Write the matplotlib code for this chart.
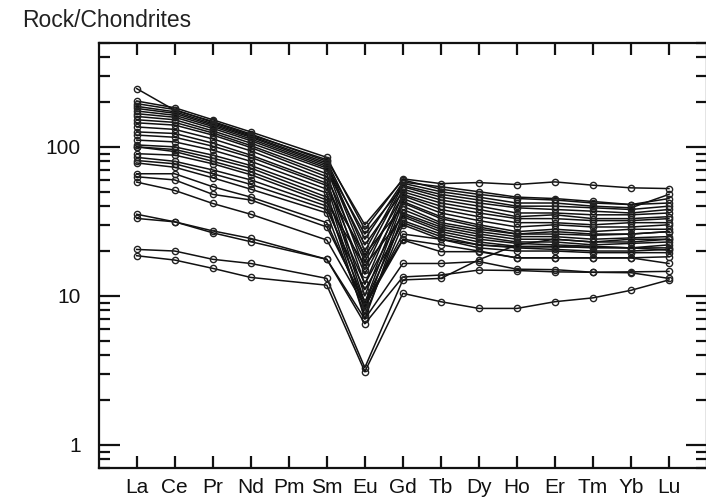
import numpy as np
import matplotlib
matplotlib.use("Agg")
import matplotlib.pyplot as plt
from matplotlib.ticker import FixedLocator, NullFormatter, FixedFormatter

plt.rcParams['font.family'] = ['Liberation Sans', 'DejaVu Sans']

elements = ["La", "Ce", "Pr", "Nd", "Pm", "Sm", "Eu", "Gd", "Tb", "Dy", "Ho", "Er", "Tm", "Yb", "Lu"]
measured = ["La", "Ce", "Pr", "Nd", "Sm", "Eu", "Gd", "Tb", "Dy", "Ho", "Er", "Tm", "Yb", "Lu"]

# Chondrite-normalised values (Pm not measured)
s01 = [246, 176, 148, 122, 80, 24, 58, 54, 50, 46, 45, 43, 41, 42]
s02 = [203, 183, 152, 126, 85, 28, 61, 56.7, 57.6, 55.9, 58.2, 55.3, 53.1, 52.5]
s03 = [195, 178, 146, 120, 82, 30, 60, 52, 48, 45, 44, 42, 41, 45]
s04 = [187, 172, 143, 118, 78, 20, 57, 50, 46, 42, 42, 40, 39, 48]
s05 = [181, 168, 140, 116, 76, 18, 55, 48, 44, 40, 40, 39, 38, 40]
s06 = [174, 163, 137, 113, 74, 26, 54, 46, 42, 39, 38, 37, 36, 38]
s07 = [167, 158, 133, 110, 72, 15, 52, 44, 40, 36, 36, 35, 35, 36]
s08 = [160, 152, 128, 106, 70, 22, 50, 42, 38, 34, 35, 33, 33, 34]
s09 = [152, 146, 124, 102, 66, 12, 48, 40, 36, 33, 33, 32, 32, 33]
s10 = [145, 140, 120, 99, 63, 17, 47, 38, 34, 31, 31, 30, 31, 31]
s11 = [136, 131, 113, 94, 60, 10, 45, 36, 32, 29, 30, 29, 29, 30]
s12 = [126, 123, 106, 88, 57, 14, 43, 34, 30, 27, 28, 27, 28, 28]
s13 = [120, 116, 101, 85, 55, 9, 42, 33, 29, 26, 27, 26, 26, 27]
s14 = [111, 108, 95, 80, 52, 19, 40, 31, 28, 26, 26, 25.5, 26, 27]
s15 = [103, 100, 88, 75, 49, 8, 38, 30, 27, 25, 25, 24, 24.5, 25]
s16 = [100, 96, 84, 72, 46, 12, 36, 29, 26, 24, 24, 23, 23, 24]
s17 = [100, 93, 80, 68, 44, 7, 35, 28, 25, 23, 23, 22, 22.5, 23]
s18 = [90, 88, 77, 65, 42, 16, 34, 27, 24, 22.5, 22, 21.5, 21, 22]
s19 = [85, 80, 70, 60, 40, 9, 32, 26, 23, 21.5, 21.5, 21, 21, 21]
s20 = [81, 77, 66, 56, 38, 11, 31, 25, 22, 21, 20.5, 20, 20, 20.5]
s21 = [78, 73, 62, 52, 36, 7.5, 30, 24, 21, 20, 20, 19.5, 19.5, 19.5]
s22 = [66, 66, 54, 46, 31, 8.5, 26, 24, 22, 21.3, 21.3, 21.3, 21, 20.3]
s23 = [63, 60, 48, 44, 29, 9, 24, 22, 20, 18, 18, 18, 18, 18.3]
s24 = [58, 51, 41.7, 35.3, 23.7, 8.5, 23.7, 19.8, 19.8, 18, 18, 18, 18, 16.5]
s25 = [35.3, 31.4, 27.3, 24.3, 17.6, 7, 16.5, 16.5, 17, 15.1, 15, 14.4, 14.5, 14.6]
s26 = [33.1, 31.4, 26.5, 23.1, 17.6, 6.5, 13.4, 13.8, 14.9, 14.8, 14.5, 14.4, 14.3, 13.1]
s27 = [20.5, 20.0, 17.6, 16.5, 13.1, 3.3, 12.8, 13.1, 17.5, 22, 24, 23, 24, 24]
s28 = [18.6, 17.4, 15.3, 13.3, 11.8, 3.1, 10.4, 9.14, 8.24, 8.24, 9.14, 9.7, 10.9, 12.8]

samples = [s01, s02, s03, s04, s05, s06, s07, s08, s09, s10, s11, s12, s13, s14,
           s15, s16, s17, s18, s19, s20, s21, s22, s23, s24, s25, s26, s27, s28]

y_major = [1, 10, 100]
y_major_labels = ["1", "10", "100"]

fig = plt.figure(figsize=(7.06, 4.97), dpi=100)
ax = fig.add_axes([98.7 / 706, 29 / 497, (707 - 98.7) / 706, (468 - 42.7) / 497])

xpos = [elements.index(e) for e in measured]
for s in samples:
    ax.plot(xpos, s, color='#111111', lw=1.1, marker='o', ms=4.5,
            mfc='none', mec='#222222', mew=1.0)

ax.set_yscale('log')
ax.set_ylim(0.7, 500)
ax.set_xlim(-1, 15)

ax.xaxis.set_major_locator(FixedLocator(range(len(elements))))
ax.set_xticklabels(elements, fontsize=15)
ax.yaxis.set_major_locator(FixedLocator(y_major))
ax.yaxis.set_major_formatter(FixedFormatter(y_major_labels))
minors = [m * 10.0 ** e for e in range(-1, 3) for m in range(2, 10)]
minors = [v for v in minors if 0.7 <= v <= 500]
ax.yaxis.set_minor_locator(FixedLocator(minors))
ax.yaxis.set_minor_formatter(NullFormatter())

ax.tick_params(axis='x', which='major', direction='in', length=8.5, width=1.6,
               top=True, bottom=True, pad=7, colors='#111111')
ax.tick_params(axis='y', which='major', direction='in', length=15, width=1.6,
               left=True, right=True, labelsize=15, pad=13, colors='#111111')
ax.tick_params(axis='y', which='minor', direction='in', length=8, width=1.6,
               left=True, right=True, colors='#111111')
for sp in ax.spines.values():
    sp.set_linewidth(1.6)
    sp.set_color('#111111')

fig.text(21.7 / 706, 1 - 27 / 497, "Rock/Chondrites", fontsize=16.5,
         ha='left', va='baseline', color='#222222')

fig.savefig("out.png", dpi=100)
